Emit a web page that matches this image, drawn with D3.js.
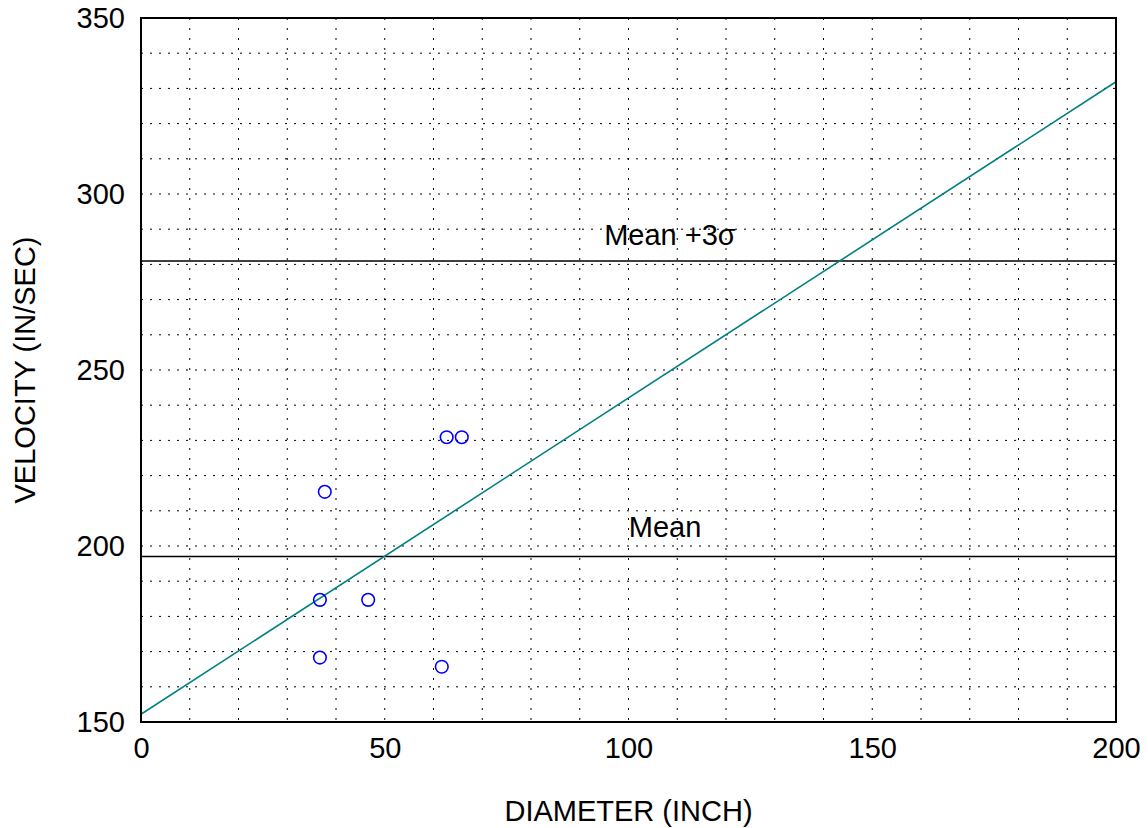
<!DOCTYPE html>
<html><head><meta charset="utf-8">
<script src="https://cdn.jsdelivr.net/npm/d3@7"></script>
<style>body{margin:0;background:#fff}svg{display:block}text{font-family:"Liberation Sans",Arial,sans-serif}</style>
</head><body><svg id="c" width="1148" height="828"></svg>
<script>
const xTicks = [0, 50, 100, 150, 200];
const yTicks = [150, 200, 250, 300, 350];
const pointX = [62.7, 65.8, 37.7, 36.7, 46.6, 36.7, 61.7];
const pointY = [230.9, 230.9, 215.4, 184.7, 184.7, 168.3, 165.7];
const fitX = [0, 200];
const fitY = [152.2, 331.9];
const refLabels = ["Mean", "Mean +3σ"];
const refValues = [197.0, 281.0];
const refLabelX = [107.5, 108.5];
const refLabelY = [202.6, 285.5];

const FS = 29;
const svg = d3.select("#c");
const L = 141, R = 1116, T = 18, B = 722;
const x = d3.scaleLinear().domain([0, 200]).range([L, R]);
const y = d3.scaleLinear().domain([150, 350]).range([B, T]);

// grid
const gx = d3.range(10, 200, 10), gy = d3.range(160, 350, 10);
svg.append("g").selectAll("line").data(gx).join("line")
  .attr("x1", d => x(d)).attr("x2", d => x(d)).attr("y1", T).attr("y2", B)
  .attr("stroke", "#000").attr("stroke-width", 1).attr("stroke-dasharray", "2,8");
svg.append("g").selectAll("line").data(gy).join("line")
  .attr("y1", d => y(d)).attr("y2", d => y(d)).attr("x1", L).attr("x2", R)
  .attr("stroke", "#000").attr("stroke-width", 1).attr("stroke-dasharray", "2,7");

// axes (labels only)
const xa = svg.append("g").attr("transform", `translate(0,${B})`)
  .call(d3.axisBottom(x).tickValues(xTicks).tickSize(0).tickPadding(15));
const ya = svg.append("g").attr("transform", `translate(${L},0)`)
  .call(d3.axisLeft(y).tickValues(yTicks).tickSize(0).tickPadding(16));
[xa, ya].forEach(a => { a.select(".domain").remove(); a.selectAll("text").attr("font-size", FS).attr("fill", "#000").style("font-family", '"Liberation Sans",Arial,sans-serif'); });

// reference lines
svg.append("g").selectAll("line").data(refValues).join("line")
  .attr("x1", L).attr("x2", R).attr("y1", d => y(d)).attr("y2", d => y(d))
  .attr("stroke", "#000").attr("stroke-width", 1.5);
svg.append("g").selectAll("text").data(refLabels).join("text")
  .attr("x", (d, i) => x(refLabelX[i])).attr("y", (d, i) => y(refLabelY[i]))
  .attr("text-anchor", "middle").attr("font-size", FS).text(d => d);

// fit line
const line = d3.line().x(d => x(d[0])).y(d => y(d[1]));
svg.append("path").datum(fitX.map((v, i) => [v, fitY[i]])).attr("d", line)
  .attr("fill", "none").attr("stroke", "#008080").attr("stroke-width", 1.6);

// points
svg.append("g").selectAll("circle").data(pointX.map((v, i) => [v, pointY[i]])).join("circle")
  .attr("cx", d => x(d[0])).attr("cy", d => y(d[1])).attr("r", 6.3)
  .attr("fill", "none").attr("stroke", "#0000ff").attr("stroke-width", 1.6);

// frame
svg.append("rect").attr("x", L).attr("y", T).attr("width", R - L).attr("height", B - T)
  .attr("fill", "none").attr("stroke", "#000").attr("stroke-width", 2);

// titles
svg.append("text").attr("x", (L + R) / 2).attr("y", 821).attr("text-anchor", "middle")
  .attr("font-size", FS).text("DIAMETER (INCH)");
svg.append("text").attr("transform", `translate(35,${(T + B) / 2}) rotate(-90)`)
  .attr("text-anchor", "middle").attr("font-size", FS).text("VELOCITY (IN/SEC)");
</script></body></html>
